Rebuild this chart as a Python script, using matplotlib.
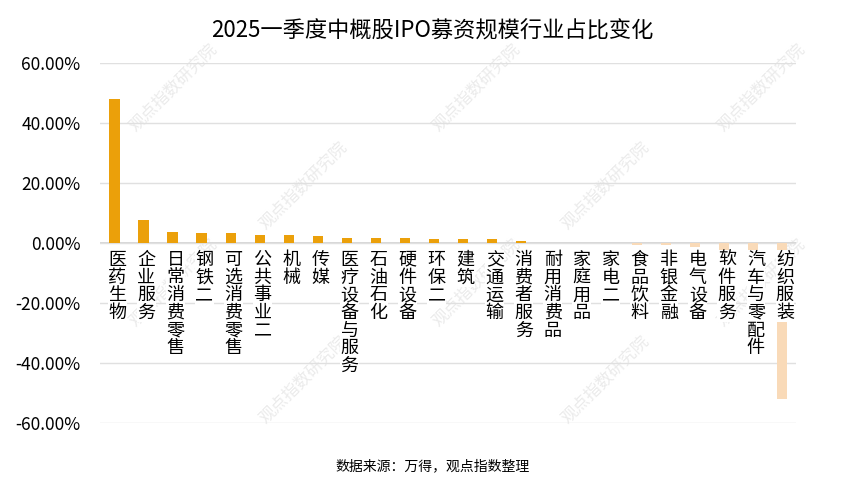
import matplotlib.pyplot as plt
import numpy as np

plt.rcParams['font.family'] = ['Noto Sans CJK SC', 'DejaVu Sans']

# categories and their share change (%)
industries = ["医药生物", "企业服务", "日常消费零售", "钢铁二", "可选消费零售",
              "公共事业二", "机械", "传媒", "医疗设备与服务", "石油石化",
              "硬件设备", "环保二", "建筑", "交通运输", "消费者服务",
              "耐用消费品", "家庭用品", "家电二", "食品饮料", "非银金融",
              "电气设备", "软件服务", "汽车与零配件", "纺织服装"]
change = [47.8, 7.8, 3.8, 3.5, 3.3,
          2.8, 2.8, 2.2, 1.8, 1.6,
          1.6, 1.3, 1.3, 1.3, 0.6,
          0.1, 0.0, 0.0, -0.6, -0.5,
          -1.2, -4.5, -6.0, -52.0]
yticks = [60, 40, 20, 0, -20, -40, -60]

pos_color = "#EBA00A"
neg_color = "#F9DAB8"

fig = plt.figure(figsize=(8.65, 4.87), dpi=100)
ax = fig.add_axes([0.1156, 0.131, 0.8052, 0.740])
ax.patch.set_visible(False)

x = np.arange(len(industries))
colors = [pos_color if v >= 0 else neg_color for v in change]
ax.bar(x, change, width=0.35, color=colors, zorder=2)

ax.set_xlim(-0.5, len(industries) - 0.5)
ax.set_ylim(-60, 60)
ax.set_yticks(yticks)
ax.set_yticklabels([f"{t:.2f}%" for t in yticks], fontsize=12.5)
ax.set_xticks([])
ax.tick_params(axis="y", length=0, pad=14)
ax.grid(axis="y", color="#e0e0e0", linewidth=1, zorder=0)
ax.axhline(0, color="#d0d0d0", linewidth=1.2, zorder=1)
for s in ax.spines.values():
    s.set_visible(False)

# vertical category labels just under the zero line
for i, name in enumerate(industries):
    ax.text(i + 0.1, -2.6, "\n".join(name), ha="center", va="top",
            fontsize=13, linespacing=0.98, zorder=3,
            bbox=dict(facecolor="white", edgecolor="none", pad=0.3))

# faint watermark behind the chart
marks = [(0.20, 0.82), (0.55, 0.82), (0.88, 0.82),
         (0.35, 0.62), (0.70, 0.62),
         (0.20, 0.42), (0.55, 0.42), (0.88, 0.42),
         (0.35, 0.22), (0.70, 0.22)]
for wx, wy in marks:
    fig.text(wx, wy, "观点指数研究院", rotation=45, fontsize=12,
             color="#ebebeb", ha="center", va="center", zorder=-1)

fig.suptitle("2025一季度中概股IPO募资规模行业占比变化", y=0.96,
             fontsize=16, fontweight="medium")
fig.text(0.5, 0.035, "数据来源：万得，观点指数整理", ha="center", fontsize=10)

fig.savefig("out.png", dpi=100)
